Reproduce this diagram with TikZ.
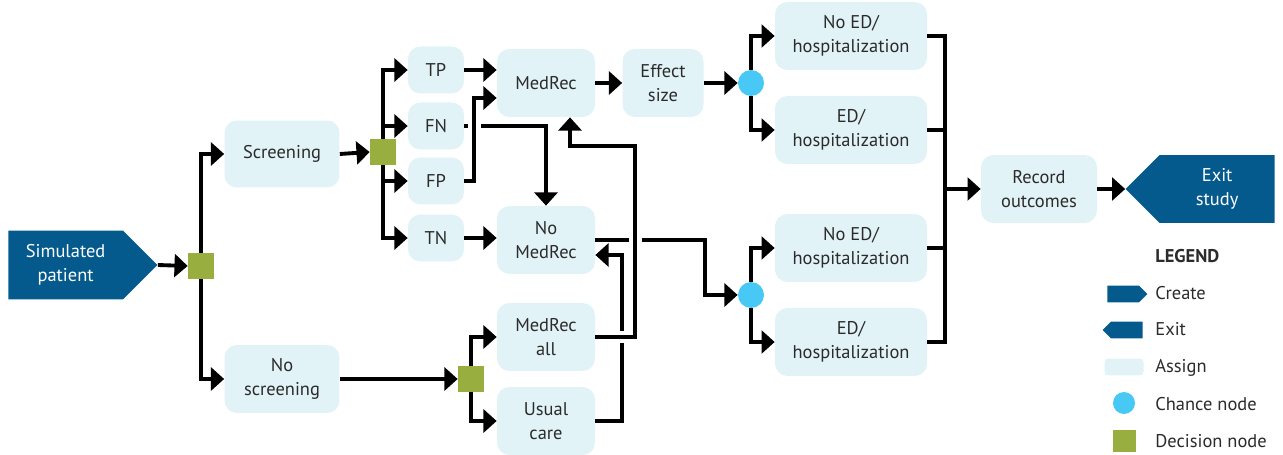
\documentclass[tikz,border=0pt]{standalone}
\usepackage{fontspec}
\setmainfont{PT Sans}
\usetikzlibrary{shapes.symbols,arrows.meta,calc,positioning}
\definecolor{createblue}{HTML}{045A8D}
\definecolor{assignblue}{HTML}{E2F3F8}
\definecolor{chanceblue}{HTML}{48C8F5}
\definecolor{decgreen}{HTML}{98AF3F}
\definecolor{txtgray}{HTML}{2B2B2B}
\tikzset{>={Triangle[length=7.5pt,width=13pt]}}
\tikzset{
  assign/.style={rectangle, rounded corners=7pt, fill=assignblue, text=txtgray,
    align=center, inner sep=0pt, minimum height=1.36cm},
  decision/.style={rectangle, fill=decgreen, minimum size=0.52cm, inner sep=0pt},
  chance/.style={circle, fill=chanceblue, minimum size=0.52cm, inner sep=0pt},
  create/.style={signal, signal to=east, signal pointer angle=90, fill=createblue,
    text=white, align=center, inner sep=0pt},
  exitbox/.style={signal, signal to=west, signal pointer angle=90, fill=createblue,
    text=white, align=center, inner sep=0pt},
  legtext/.style={anchor=west, text=txtgray, inner sep=0pt},
  line/.style={line width=2.2pt},
  conn/.style={line width=2.2pt, ->},
  bridge/.style={preaction={draw=white, line width=7pt, -, shorten <=4pt, shorten >=4pt}}
}
\begin{document}
\begin{tikzpicture}[x=0.02cm, y=-0.02cm, font=\fontsize{10.5}{13.5}\selectfont]
  \useasboundingbox (0,0) rectangle (1283,455);

  % nodes
  \node[create, minimum width=2.98cm, minimum height=1.38cm, anchor=west] (sp) at (8,265) {Simulated\\patient};
  \node[decision] (d1) at (201,266) {};
  \node[assign, minimum width=2.3cm, minimum height=1.34cm] (scr) at (282,154) {Screening};
  \node[assign, minimum width=2.3cm] (noscr) at (282,379) {No\\screening};
  \node[decision] (d2) at (383,152) {};
  \node[decision] (d3) at (471,379) {};
  \foreach \lab/\y in {TP/70, FN/126, FP/181, TN/238}
    \node[assign, minimum width=1.12cm, minimum height=0.94cm] (\lab) at (436,\y) {\lab};
  \node[assign, minimum width=1.96cm] (medrec) at (546,83) {MedRec};
  \node[assign, minimum width=1.96cm] (nomedrec) at (546,240) {No\\MedRec};
  \node[assign, minimum width=1.96cm] (mall) at (546,337) {MedRec\\all};
  \node[assign, minimum width=1.96cm] (usual) at (546,421) {Usual\\care};
  \node[assign, minimum width=1.62cm] (eff) at (663,83) {Effect\\size};
  \node[chance] (c1) at (751,83) {};
  \node[chance] (c2) at (751,295) {};
  \node[assign, minimum width=3.04cm] (ned1) at (851,36) {No ED/\\hospitalization};
  \node[assign, minimum width=3.04cm] (ed1) at (851,130) {ED/\\hospitalization};
  \node[assign, minimum width=3.04cm] (ned2) at (851,248) {No ED/\\hospitalization};
  \node[assign, minimum width=3.04cm] (ed2) at (851,342) {ED/\\hospitalization};
  \node[assign, minimum width=2.32cm] (rec) at (1039,189) {Record\\outcomes};
  \node[exitbox, minimum width=2.98cm, minimum height=1.36cm, anchor=east] (ex) at (1275,189) {Exit\\study};
  \coordinate (br) at (945,189);

  % connectors
  \draw[conn] (sp.east) -- (d1.west);
  \draw[conn] (d1.north) |- (scr.west);
  \draw[conn] (d1.south) |- (noscr.west);
  \draw[conn] (scr.east) -- (d2.west);
  \draw[conn] (d2.north) |- (TP.west);
  \draw[conn] (d2.north) |- (FN.west);
  \draw[conn] (d2.south) |- (FP.west);
  \draw[conn] (d2.south) |- (TN.west);
  \draw[conn] (TP.east) -- (TP.east -| medrec.west);
  \draw[conn] (FN.east) -| (nomedrec.north);
  \draw[conn, bridge] (FP.east) -- ++(10,0) |- ($(medrec.west)+(0,15)$);
  \draw[conn] (TN.east) -- (TN.east -| nomedrec.west);
  \draw[conn] (medrec.east) -- (eff.west);
  \draw[conn] (eff.east) -- (c1.west);
  \draw[conn] (c1.north) |- (ned1.west);
  \draw[conn] (c1.south) |- (ed1.west);
  \draw[conn] (nomedrec.east) -- ++(110,0) |- (c2.west);
  \draw[conn] (c2.north) |- (ned2.west);
  \draw[conn] (c2.south) |- (ed2.west);
  \draw[conn] (noscr.east) -- (d3.west);
  \draw[conn] (d3.north) |- (mall.west);
  \draw[conn] (d3.south) |- (usual.west);
  \draw[conn] (usual.east) -- ++(27,0) |- ($(nomedrec.east)+(0,15)$);
  \draw[conn, bridge] (mall.east) -- ++(40,0) |- ($(medrec.south)+(24,29)$) -- ($(medrec.south)+(24,0)$);
  \foreach \n in {ned1, ed1, ned2, ed2}
    \draw[line] (\n.east) -| (br);
  \draw[conn] (br) -- (rec.west);
  \draw[conn] (rec.east) -- (ex.west);

  % legend
  \node[legtext, font=\fontsize{10.5}{13.5}\selectfont\bfseries] (leg) at (1155,256) {LEGEND};
  \node[create, minimum width=0.8cm, minimum height=0.34cm, anchor=west] (legc) at (1107,294) {};
  \node[legtext] (legct) at (1155,293) {Create};
  \node[exitbox, minimum width=0.8cm, minimum height=0.34cm, anchor=west] (lege) at (1102,330) {};
  \node[legtext] (leget) at (1155,329) {Exit};
  \node[assign, rounded corners=2pt, minimum width=0.78cm, minimum height=0.34cm] (lega) at (1124,367) {};
  \node[legtext] (legat) at (1155,368) {Assign};
  \node[chance, minimum size=0.44cm] (legch) at (1124,403) {};
  \node[legtext] (legcht) at (1155,404) {Chance node};
  \node[decision, minimum size=0.46cm] (legd) at (1124,441) {};
  \node[legtext] (legdt) at (1155,441) {Decision node};
\end{tikzpicture}
\end{document}
